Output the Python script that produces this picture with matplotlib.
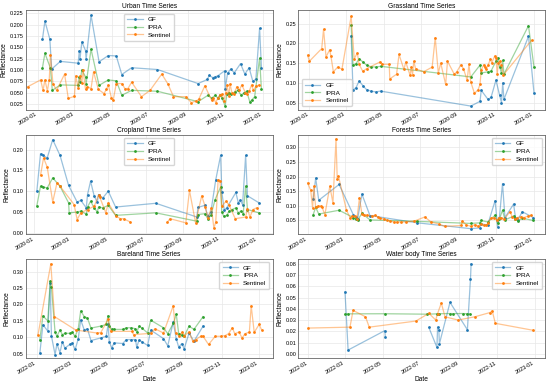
import matplotlib
matplotlib.use('Agg')
import matplotlib.pyplot as plt
import matplotlib.dates as mdates
from matplotlib.colors import to_rgba
from matplotlib.ticker import MultipleLocator
import numpy as np
import pandas as pd

# days are counted from 1 January of the series year, values are reflectance
urban_gf_day = [8, 12, 20, 23, 37, 66, 68, 69, 72, 78, 79, 87, 100, 115, 128, 137, 153, 195, 261, 276, 279, 285,
                289, 293, 304, 305, 309, 314, 320, 330, 337, 344, 350, 355, 361, 364]
urban_gf_val = [0.168, 0.208, 0.168, 0.102, 0.119, 0.115, 0.143, 0.124, 0.162, 0.143, 0.124, 0.221, 0.118, 0.132,
                0.131, 0.090, 0.105, 0.101, 0.070, 0.079, 0.088, 0.083, 0.085, 0.087, 0.098, 0.058, 0.093, 0.102,
                0.094, 0.114, 0.091, 0.105, 0.075, 0.080, 0.192, 0.105]
urban_ipra_day = [8, 12, 21, 24, 37, 66, 68, 69, 72, 78, 79, 87, 100, 115, 128, 137, 153, 195, 261, 277, 283, 289,
                  293, 297, 300, 305, 308, 311, 315, 321, 326, 331, 336, 340, 345, 348, 353, 361, 364]
urban_ipra_val = [0.105, 0.137, 0.104, 0.055, 0.067, 0.066, 0.085, 0.074, 0.100, 0.085, 0.070, 0.146, 0.066, 0.078,
                  0.076, 0.044, 0.055, 0.053, 0.030, 0.044, 0.038, 0.044, 0.038, 0.044, 0.037, 0.021, 0.046, 0.050,
                  0.046, 0.052, 0.055, 0.044, 0.050, 0.053, 0.030, 0.033, 0.041, 0.126, 0.057]
urban_sen_day = [-16, 5, 9, 12, 16, 19, 21, 25, 31, 44, 50, 60, 62, 66, 69, 72, 74, 78, 81, 87, 91, 99, 108, 112,
                 115, 120, 123, 128, 137, 142, 147, 153, 169, 183, 202, 212, 221, 241, 250, 257, 262, 272, 283, 286,
                 290, 293, 296, 300, 303, 306, 308, 311, 313, 316, 319, 324, 328, 332, 338, 341, 344, 348, 351, 355,
                 360]
urban_sen_val = [0.063, 0.078, 0.055, 0.078, 0.054, 0.078, 0.133, 0.070, 0.055, 0.091, 0.037, 0.042, 0.087, 0.061,
                 0.087, 0.072, 0.100, 0.057, 0.063, 0.059, 0.096, 0.057, 0.048, 0.057, 0.067, 0.039, 0.033, 0.070,
                 0.070, 0.059, 0.059, 0.073, 0.041, 0.055, 0.091, 0.069, 0.041, 0.041, 0.028, 0.031, 0.035, 0.065,
                 0.033, 0.037, 0.028, 0.038, 0.044, 0.046, 0.032, 0.050, 0.067, 0.043, 0.069, 0.050, 0.046, 0.063,
                 0.055, 0.067, 0.050, 0.048, 0.053, 0.067, 0.055, 0.064, 0.067]

grass_gf_day = [68, 71, 76, 81, 88, 93, 100, 108, 116, 263, 278, 280, 291, 296, 304, 310, 313, 315, 317, 357, 366]
grass_gf_val = [0.220, 0.081, 0.088, 0.105, 0.091, 0.083, 0.079, 0.077, 0.079, 0.041, 0.053, 0.081, 0.058, 0.063,
                0.107, 0.068, 0.050, 0.100, 0.058, 0.218, 0.074]
grass_ipra_day = [68, 71, 76, 81, 88, 93, 100, 108, 116, 263, 278, 280, 291, 296, 304, 307, 310, 313, 315, 317, 357,
                  366]
grass_ipra_val = [0.246, 0.145, 0.149, 0.161, 0.152, 0.145, 0.141, 0.140, 0.142, 0.115, 0.145, 0.125, 0.128, 0.130,
                  0.155, 0.163, 0.140, 0.125, 0.157, 0.122, 0.245, 0.140]
grass_sen_day = [-3, 0, 20, 23, 27, 33, 35, 39, 46, 53, 68, 73, 78, 81, 87, 93, 115, 119, 130, 131, 142, 146, 154,
                 157, 164, 166, 168, 170, 173, 186, 200, 205, 210, 214, 222, 225, 236, 240, 247, 251, 257, 260, 263,
                 269, 275, 278, 280, 284, 286, 288, 291, 295, 297, 302, 304, 306, 308, 310, 313, 316, 362]
grass_sen_val = [0.170, 0.155, 0.187, 0.236, 0.166, 0.184, 0.168, 0.128, 0.140, 0.135, 0.269, 0.161, 0.176, 0.147,
                 0.129, 0.136, 0.153, 0.147, 0.147, 0.110, 0.122, 0.172, 0.134, 0.153, 0.119, 0.140, 0.120, 0.155,
                 0.136, 0.128, 0.140, 0.215, 0.125, 0.150, 0.096, 0.155, 0.122, 0.128, 0.146, 0.136, 0.107, 0.147,
                 0.102, 0.073, 0.083, 0.096, 0.132, 0.146, 0.140, 0.134, 0.145, 0.160, 0.151, 0.168, 0.163, 0.122,
                 0.151, 0.155, 0.145, 0.120, 0.208]

crop_gf_day = [4, 10, 14, 21, 30, 42, 56, 70, 76, 85, 87, 92, 98, 103, 105, 112, 121, 133, 199, 266, 268, 279, 284,
               289, 297, 305, 307, 311, 315, 330, 334, 337, 341, 346, 349, 368]
crop_gf_val = [0.100, 0.190, 0.186, 0.180, 0.224, 0.186, 0.114, 0.074, 0.078, 0.060, 0.092, 0.124, 0.088, 0.074,
               0.092, 0.084, 0.100, 0.062, 0.071, 0.038, 0.061, 0.066, 0.040, 0.050, 0.127, 0.186, 0.098, 0.055,
               0.060, 0.097, 0.072, 0.078, 0.068, 0.186, 0.089, 0.072]
crop_ipra_day = [4, 10, 14, 21, 30, 42, 56, 57, 70, 76, 85, 87, 92, 98, 103, 105, 112, 121, 133, 199, 266, 268, 279,
                 284, 289, 296, 305, 307, 310, 315, 319, 324, 330, 334, 338, 342, 346, 349, 368]
crop_ipra_val = [0.065, 0.112, 0.110, 0.108, 0.132, 0.112, 0.072, 0.048, 0.050, 0.052, 0.045, 0.062, 0.076, 0.060,
                 0.050, 0.062, 0.060, 0.066, 0.042, 0.048, 0.028, 0.044, 0.046, 0.034, 0.042, 0.080, 0.110, 0.050,
                 0.040, 0.042, 0.052, 0.056, 0.060, 0.048, 0.052, 0.046, 0.112, 0.056, 0.048]
crop_sen_day = [10, 15, 21, 30, 37, 42, 65, 70, 76, 87, 98, 105, 107, 117, 121, 134, 141, 146, 157, 190, 218, 222,
                248, 254, 264, 274, 280, 284, 290, 294, 297, 301, 304, 307, 314, 319, 329, 346, 349, 353, 358, 364]
crop_sen_val = [0.138, 0.180, 0.158, 0.074, 0.120, 0.112, 0.068, 0.032, 0.048, 0.056, 0.064, 0.090, 0.086, 0.048,
                0.072, 0.040, 0.034, 0.034, 0.026, np.nan, 0.026, 0.034, 0.024, 0.102, 0.024, 0.089, 0.062, 0.035,
                0.060, 0.011, 0.026, 0.128, 0.125, 0.064, 0.076, 0.066, 0.034, 0.038, 0.058, 0.038, 0.056, 0.060]

forest_gf_day = [8, 12, 17, 50, 73, 77, 80, 87, 100, 177, 264, 278, 280, 291, 303, 307, 310, 315, 319, 333, 336, 340,
                 347, 365]
forest_gf_val = [0.122, 0.195, 0.119, 0.173, 0.070, 0.062, 0.055, 0.140, 0.067, 0.042, 0.022, 0.025, 0.038, 0.035,
                 0.118, 0.028, 0.060, 0.176, 0.060, 0.106, 0.060, 0.052, 0.080, 0.060]
forest_ipra_day = forest_gf_day
forest_ipra_val = [0.070, 0.095, 0.072, 0.085, 0.060, 0.055, 0.050, 0.075, 0.052, 0.047, 0.040, 0.042, 0.050, 0.045,
                   0.068, 0.040, 0.055, 0.085, 0.052, 0.065, 0.055, 0.048, 0.058, 0.050]
forest_sen_day = [-1, 4, 7, 9, 12, 15, 20, 22, 27, 35, 40, 45, 47, 49, 62, 68, 71, 76, 79, 83, 87, 91, 96, 103, 109,
                  113, 117, 123, 128, 132, 139, 144, 150, 158, 172, 189, 199, 212, 221, 248, 250, 256, 264, 270, 276,
                  280, 285, 289, 292, 296, 301, 306, 309, 313, 318, 327, 331, 335, 339, 345, 350, 357, 362]
forest_sen_val = [0.178, 0.153, 0.093, 0.167, 0.095, 0.099, 0.099, 0.097, 0.070, 0.167, 0.110, 0.328, 0.190, 0.201,
                  0.085, 0.059, 0.065, 0.065, 0.056, 0.127, 0.073, 0.070, 0.068, 0.065, 0.068, 0.061, 0.057, 0.056,
                  0.051, 0.048, 0.045, 0.044, 0.045, 0.045, 0.048, 0.062, 0.045, 0.038, 0.030, 0.033, 0.048, 0.035,
                  0.030, 0.036, 0.030, 0.038, 0.033, 0.035, 0.042, 0.058, 0.060, 0.052, 0.060, 0.060, 0.055, 0.080,
                  0.062, 0.055, 0.060, 0.063, 0.060, 0.066, 0.068]

bare_gf_day = [5, 10, 18, 22, 24, 30, 33, 38, 42, 46, 54, 58, 63, 68, 72, 78, 83, 89, 105, 114, 117, 119, 123, 127,
               141, 147, 155, 162, 164, 168, 172, 182, 187, 208, 215, 224, 229, 233, 238, 242, 250, 258, 273]
bare_gf_val = [0.052, 0.138, 0.119, 0.266, 0.104, 0.047, 0.080, 0.053, 0.087, 0.067, 0.078, 0.082, 0.063, 0.095,
               0.153, 0.122, 0.126, 0.090, 0.098, 0.103, 0.139, 0.086, 0.068, 0.083, 0.081, 0.093, 0.093, 0.093,
               0.070, 0.092, 0.087, 0.075, 0.122, 0.096, 0.074, 0.146, 0.095, 0.070, 0.081, 0.065, 0.113, 0.088,
               0.134]
bare_ipra_day = bare_gf_day
bare_ipra_val = [0.093, 0.165, 0.150, 0.270, 0.252, 0.115, 0.103, 0.122, 0.108, 0.112, 0.112, 0.115, 0.103, 0.126,
                 0.180, 0.163, 0.159, 0.128, 0.134, 0.139, 0.166, 0.134, 0.124, 0.124, 0.124, 0.129, 0.129, 0.126,
                 0.115, 0.134, 0.129, 0.113, 0.152, 0.129, 0.111, 0.142, 0.170, 0.111, 0.108, 0.103, 0.134, 0.124,
                 0.163]
bare_sen_day = [2, 23, 29, 64, 99, 105, 117, 121, 156, 159, 187, 194, 208, 224, 228, 234, 239, 242, 250, 256, 261,
                269, 273, 282, 293, 302, 309, 315, 321, 325, 332, 337, 342, 349, 352, 357, 365, 369]
bare_sen_val = [0.108, 0.324, 0.163, 0.122, 0.113, 0.114, 0.155, 0.118, 0.118, 0.108, 0.112, 0.126, 0.113, 0.196,
                0.113, 0.103, 0.116, 0.105, 0.116, 0.088, 0.093, 0.103, 0.103, 0.078, 0.103, 0.103, 0.105, 0.111,
                0.129, 0.111, 0.116, 0.098, 0.111, 0.116, 0.196, 0.115, 0.139, 0.123]

water_gf_day = [59, 64, 123, 124, 160, 194, 207, 208, 210, 211, 228, 256, 261, 262]
water_gf_val = [0.055, 0.0034, 0.0206, 0.0149, np.nan, 0.0234, 0.0057, 0.0237, 0.021, 0.009, 0.0457, 0.0214, 0.0666,
                0.080]
water_ipra_day = [59, 64, 123, 191, 207, 210, 228, 233, 249, 256, 261]
water_ipra_val = [0.0352, 0.0355, 0.0356, 0.0352, 0.0355, 0.0356, 0.0358, 0.0357, 0.0358, 0.0356, 0.0354]
water_sen_day = [0, 67, 72, 92, 98, 173, 194, 205, 208, 214, 220, 241, 268, 292, 296, 301, 362]
water_sen_val = [0.0229, 0.0237, 0.0386, 0.0329, 0.0237, 0.0291, 0.0360, 0.0300, 0.0357, 0.0451, 0.0329, 0.0300,
                 0.0329, 0.0366, 0.038, 0.0271, 0.0209]

panels = [
    ('Urban Time Series', '2020-01-01',
     [(urban_gf_day, urban_gf_val), (urban_ipra_day, urban_ipra_val), (urban_sen_day, urban_sen_val)]),
    ('Grassland Time Series', '2020-01-01',
     [(grass_gf_day, grass_gf_val), (grass_ipra_day, grass_ipra_val), (grass_sen_day, grass_sen_val)]),
    ('Cropland Time Series', '2020-01-01',
     [(crop_gf_day, crop_gf_val), (crop_ipra_day, crop_ipra_val), (crop_sen_day, crop_sen_val)]),
    ('Forests Time Series', '2020-01-01',
     [(forest_gf_day, forest_gf_val), (forest_ipra_day, forest_ipra_val), (forest_sen_day, forest_sen_val)]),
    ('Bareland Time Series', '2022-01-01',
     [(bare_gf_day, bare_gf_val), (bare_ipra_day, bare_ipra_val), (bare_sen_day, bare_sen_val)]),
    ('Water body Time Series', '2022-01-01',
     [(water_gf_day, water_gf_val), (water_ipra_day, water_ipra_val), (water_sen_day, water_sen_val)]),
]
series_names = ['GF', 'IPRA', 'Sentinel']
series_colors = ['#1f77b4', '#2ca02c', '#ff7f0e']

# axis setup per panel (layout, not data)
x_limits = [(-19, 382), (-18, 384), (-14, 390), (-16, 384), (-18, 387), (-16, 381)]
y_limits = [(0.0124, 0.2317), (0.032, 0.284), (-0.0024, 0.236), (0.0045, 0.343), (0.0367, 0.339),
            (-0.0037, 0.0843)]
y_steps = [0.025, 0.05, 0.05, 0.05, 0.05, 0.01]
legend_locs = ['upper center', 'lower left', 'upper center', 'upper right', 'upper right', 'upper right']


def to_dates(start, days):
    return pd.Timestamp(start) + pd.to_timedelta(np.asarray(days, dtype=float), unit='D')


plt.rcParams['font.family'] = ['Liberation Sans', 'DejaVu Sans']
fig, axes = plt.subplots(3, 2, figsize=(5.5, 3.85), dpi=100)
fig.subplots_adjust(left=0.047, right=0.991, top=0.973, bottom=0.07, wspace=0.105, hspace=0.252)

for i, (ax, (title, start, series)) in enumerate(zip(axes.flat, panels)):
    for (days, vals), name, col in zip(series, series_names, series_colors):
        rgba = to_rgba(col)
        ax.plot(to_dates(start, days), vals, color=(rgba[0], rgba[1], rgba[2], 0.45), lw=0.9,
                marker='o', ms=2.0, mfc=col, mec=col, mew=0, label=name)

    t0 = pd.Timestamp(start)
    ax.set_xlim(t0 + pd.Timedelta(days=x_limits[i][0]), t0 + pd.Timedelta(days=x_limits[i][1]))
    ax.set_ylim(*y_limits[i])
    ax.yaxis.set_major_locator(MultipleLocator(y_steps[i]))
    ax.xaxis.set_major_locator(mdates.MonthLocator(bymonth=[1, 3, 5, 7, 9, 11]))
    ax.xaxis.set_major_formatter(mdates.DateFormatter('%Y-%m'))
    for lbl in ax.get_xticklabels():
        lbl.set_rotation(30)
        lbl.set_ha('right')
    ax.tick_params(labelsize=4.0, length=0, pad=1.5)
    ax.grid(True, color='#e8e8e8', lw=0.5)
    ax.set_axisbelow(True)
    for sp in ax.spines.values():
        sp.set_color('0.4')
        sp.set_linewidth(0.6)

    ax.set_title(title, fontsize=4.8, pad=2)
    ax.set_ylabel('Reflectance', fontsize=4.8, labelpad=1.5)
    if i >= 4:
        ax.set_xlabel('Date', fontsize=4.8, labelpad=1)
    ax.legend(loc=legend_locs[i], fontsize=4.6, frameon=True, edgecolor='0.8', fancybox=True,
              handlelength=2.4, borderpad=0.5, labelspacing=0.35, handletextpad=0.8)

fig.savefig('out.png', dpi=100)
